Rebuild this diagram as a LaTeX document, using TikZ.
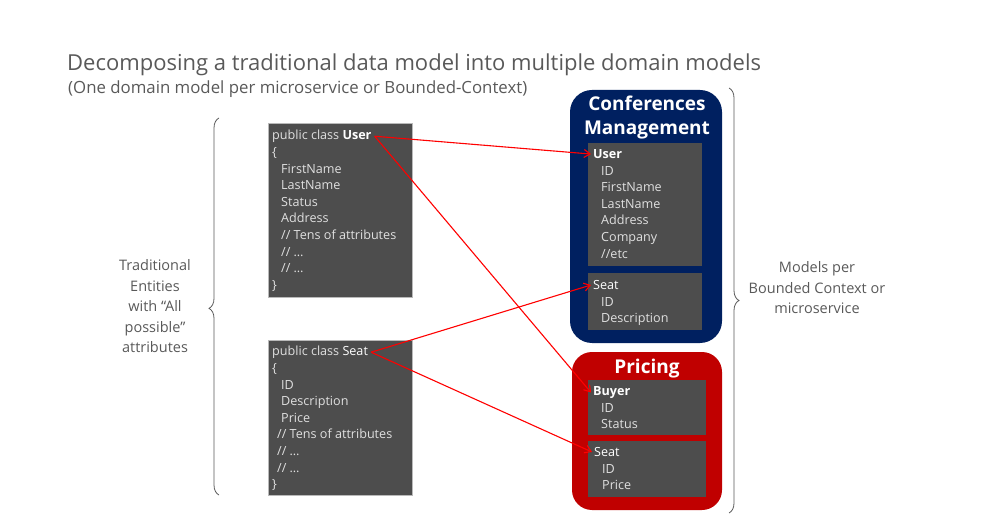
\documentclass[tikz,border=0pt]{standalone}
\usepackage{fontspec}
\setmainfont{Open Sans}
\usetikzlibrary{arrows.meta,decorations.pathreplacing}
\definecolor{navyc}{HTML}{002060}
\definecolor{redc}{HTML}{C00000}
\definecolor{boxg}{HTML}{4D4D4D}
\definecolor{txtg}{HTML}{E0E0E0}
\definecolor{labg}{HTML}{595959}
\definecolor{arrr}{HTML}{FF0000}
\begin{document}
\begin{tikzpicture}[x=1pt,y=-1pt,
  codebox/.style={draw=gray!55,line width=0.8pt,fill=boxg},
  innerbox/.style={fill=boxg},
  codetxt/.style={inner sep=0pt,anchor=base west,text=txtg,font=\fontsize{12.6}{14}\selectfont},
  ctxbox/.style={rounded corners=22pt},
  ctxtitle/.style={inner sep=0pt,anchor=base,text=white,font=\fontsize{19}{22}\selectfont\bfseries},
  bracestyle/.style={draw=labg,line width=0.8pt,decorate},
  sidetxt/.style={inner sep=0pt,text=labg,align=center,font=\fontsize{14.5}{20.5}\selectfont},
  maparrow/.style={draw=arrr,line width=1.1pt,-{Straight Barb[length=6pt,width=8pt]}}
]
\useasboundingbox (0,0) rectangle (987,526);

% title
\node[inner sep=0pt,anchor=base west,text=labg,font=\fontsize{22}{26}\selectfont] (title) at (67,71) {Decomposing a traditional data model into multiple domain models};
\node[inner sep=0pt,anchor=base west,text=labg,font=\fontsize{16.8}{20}\selectfont] (subtitle) at (68,94) {(One domain model per microservice or Bounded-Context)};

% left code boxes
\node[codebox,minimum width=144pt,minimum height=174pt,anchor=north west,inner sep=0pt] (ubox) at (268,123) {};
\node[codetxt] (uh) at (272,139.5) {public class \textbf{\color{white}User}};
\foreach \dx/\t [count=\i] in {0/{\{},9/{FirstName},9/{LastName},9/{Status},9/{Address},9/{// Tens of attributes},9/{// \dots},9/{// \dots},0/{\}}}
  \node[codetxt] (ul\i) at (272+\dx,156.5+16.6*\i-16.6) {\t};

\node[codebox,minimum width=144pt,minimum height=155pt,anchor=north west,inner sep=0pt] (sbox) at (268,340) {};
\node[codetxt] (sh) at (272,355.5) {public class {\color{white}Seat}};
\foreach \dx/\t [count=\i] in {0/{\{},9/{ID},9/{Description},9/{Price},5/{// Tens of attributes},5/{// \dots},5/{// \dots},0/{\}}}
  \node[codetxt] (sl\i) at (272+\dx,372.5+16.6*\i-16.6) {\t};

% left brace and label
\coordinate (lb1) at (219,495);
\coordinate (lb2) at (219,118);
\draw[bracestyle,decoration={brace,amplitude=10pt,aspect=0.495}] (lb1) -- (lb2);
\node[sidetxt] (ltxt) at (155,306.5) {Traditional\\Entities\\with “All\\possible”\\attributes};

% Conferences Management context
\path[ctxbox,fill=navyc] (570,90) rectangle (722,343);
\node[ctxtitle] (cmt1) at (647,111) {Conferences};
\node[ctxtitle] (cmt2) at (647,135) {Management};
\node[innerbox,minimum width=114pt,minimum height=123pt,anchor=north west,inner sep=0pt] (cub) at (588,143) {};
\node[codetxt] (cuh) at (593,158.5) {\textbf{\color{white}User}};
\foreach \t [count=\i] in {ID,FirstName,LastName,Address,Company,//etc}
  \node[codetxt] (cu\i) at (601,175.2+16.6*\i-16.6) {\t};
\node[innerbox,minimum width=114pt,minimum height=57pt,anchor=north west,inner sep=0pt] (csb) at (588,273) {};
\node[codetxt] (csh) at (593,289.5) {{\color{white}Seat}};
\foreach \t [count=\i] in {ID,Description}
  \node[codetxt] (cs\i) at (601,306.1+16.6*\i-16.6) {\t};

% Pricing context
\path[ctxbox,rounded corners=20pt,fill=redc] (572,352) rectangle (722,510);
\node[ctxtitle] (prt) at (647,373) {Pricing};
\node[innerbox,minimum width=118pt,minimum height=55pt,anchor=north west,inner sep=0pt] (pbb) at (588,380) {};
\node[codetxt] (pbh) at (593,395.5) {\textbf{\color{white}Buyer}};
\foreach \t [count=\i] in {ID,Status}
  \node[codetxt] (pb\i) at (601,412.1+16.6*\i-16.6) {\t};
\node[innerbox,minimum width=118pt,minimum height=56pt,anchor=north west,inner sep=0pt] (psb) at (588,441) {};
\node[codetxt] (psh) at (594,456.5) {{\color{white}Seat}};
\foreach \t [count=\i] in {ID,Price}
  \node[codetxt] (ps\i) at (602,473.1+16.6*\i-16.6) {\t};

% right brace and label
\coordinate (rb1) at (729,88);
\coordinate (rb2) at (729,513);
\draw[bracestyle,decoration={brace,amplitude=10pt,aspect=0.5}] (rb1) -- (rb2);
\node[sidetxt] (rtxt) at (817,288) {Models per\\Bounded Context or\\microservice};

% mapping arrows
\draw[maparrow] ([xshift=3pt]uh.east) -- ([xshift=-2pt]cuh.west);
\draw[maparrow] ([xshift=3pt]uh.east) -- ([xshift=-2pt]pbh.west);
\draw[maparrow] ([xshift=3pt]sh.east) -- ([xshift=-2pt]csh.west);
\draw[maparrow] ([xshift=3pt]sh.east) -- ([xshift=-2pt]psh.west);
\end{tikzpicture}
\end{document}
